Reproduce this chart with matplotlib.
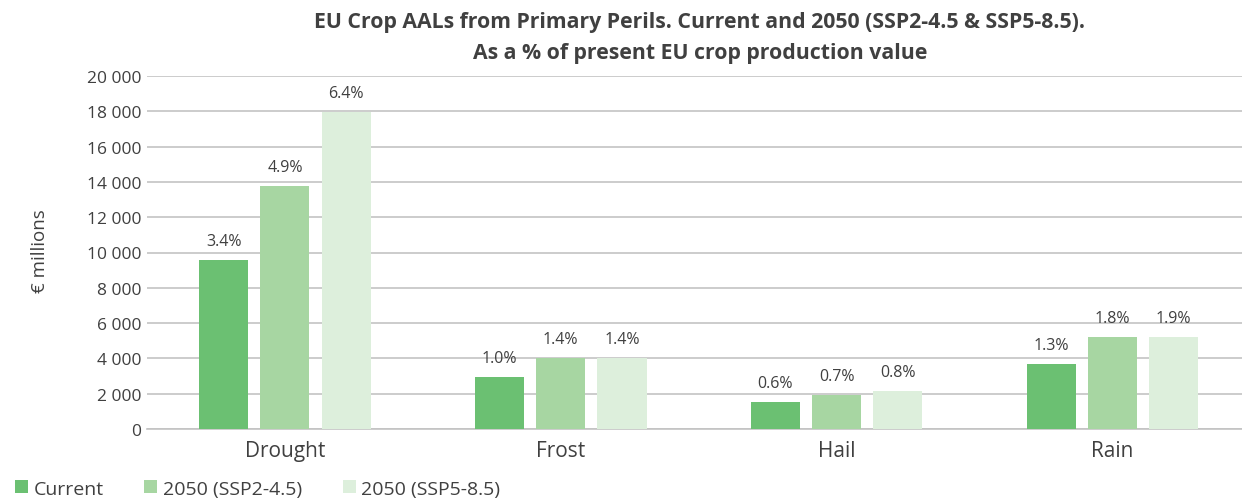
import numpy as np
import matplotlib.pyplot as plt

# Data (EUR millions) and label text
perils = ['Drought', 'Frost', 'Hail', 'Rain']
current = [9550, 2950, 1550, 3680]
ssp245 = [13770, 4000, 1930, 5210]
ssp585 = [17950, 4000, 2150, 5200]
pct_current = ['3.4%', '1.0%', '0.6%', '1.3%']
pct_ssp245 = ['4.9%', '1.4%', '0.7%', '1.8%']
pct_ssp585 = ['6.4%', '1.4%', '0.8%', '1.9%']
series_names = ['Current', '2050 (SSP2-4.5)', '2050 (SSP5-8.5)']
yticks = np.arange(0, 20001, 2000)

colors = ['#6bc072', '#a7d6a2', '#ddefdc']
text_col = '#404040'

plt.rcParams['font.family'] = ['Open Sans', 'DejaVu Sans']

fig = plt.figure(figsize=(12.42, 5.02), dpi=100)
ax = fig.add_axes([147 / 1242, 72 / 502, (1242 - 147) / 1242, 353 / 502])

x = np.arange(len(perils))
width = 0.178
step = 0.222

groups = [(current, pct_current), (ssp245, pct_ssp245), (ssp585, pct_ssp585)]
for i, (vals, pcts) in enumerate(groups):
    pos = x + (i - 1) * step
    bars = ax.bar(pos, vals, width, color=colors[i], label=series_names[i], zorder=3)
    for b, p in zip(bars, pcts):
        ax.annotate(p, (b.get_x() + b.get_width() / 2, b.get_height()),
                    xytext=(0, 8), textcoords='offset points',
                    ha='center', va='bottom', fontsize=11.5, color=text_col)

ax.set_xlim(-0.5, 3.47)
ax.set_ylim(0, 20000)
ax.set_yticks(yticks)
ax.set_yticklabels([f'{v:,}'.replace(',', ' ') for v in yticks])
ax.set_xticks(x)
ax.set_xticklabels(perils, fontsize=15, color=text_col)
ax.tick_params(axis='y', length=0, pad=4, labelsize=12.5, labelcolor=text_col)
ax.tick_params(axis='x', length=0, pad=8)
ax.grid(axis='y', color='#c3c3c3', linewidth=1.2, zorder=0)
for s in ['top', 'right', 'left']:
    ax.spines[s].set_visible(False)
ax.spines['bottom'].set_color('#c3c3c3')
ax.spines['bottom'].set_linewidth(1.2)

fig.text(40 / 1242, 0.5, '€ millions', rotation=90, ha='center', va='center',
         fontsize=13.5, color=text_col)
fig.text(700 / 1242, 1 - 38 / 502,
         'EU Crop AALs from Primary Perils. Current and 2050 (SSP2-4.5 & SSP5-8.5).\n'
         'As a % of present EU crop production value',
         ha='center', va='center', fontsize=15.3, fontweight='bold',
         color=text_col, linespacing=1.6)

fig.legend(loc='lower left', bbox_to_anchor=(-0.002, -0.028), ncol=3, frameon=False,
           fontsize=14, labelcolor=text_col, handlelength=0.65, handleheight=0.65,
           handletextpad=0.3, columnspacing=2.1)

fig.savefig('out.png', dpi=100)
